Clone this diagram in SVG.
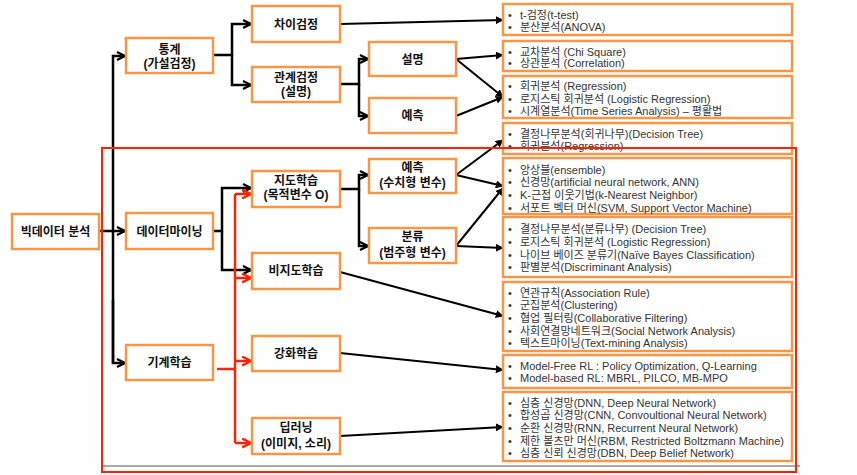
<svg xmlns="http://www.w3.org/2000/svg" width="857" height="475" viewBox="0 0 857 475">
<style>
.n{fill:#fff;stroke:#f79646;stroke-width:2.5}
.b{fill:#fff;stroke:#f79646;stroke-width:2.5}
.t{font-family:"Liberation Sans","Noto Sans CJK KR",sans-serif;font-weight:bold;font-size:12px;fill:#111;text-anchor:middle}
.l{font-family:"Liberation Sans","Noto Sans CJK KR",sans-serif;font-size:11px;fill:#333}
.k{fill:none;stroke:#000;stroke-width:2.5}
.d{fill:none;stroke:#000;stroke-width:2}
.r{fill:none;stroke:#ff2200;stroke-width:2.5}
</style>
<defs>
<marker id="ch" viewBox="0 0 10 10" refX="9" refY="5" markerWidth="10" markerHeight="10" markerUnits="userSpaceOnUse" orient="auto"><path d="M1,1 L9,5 L1,9" fill="none" stroke="#000" stroke-width="2.2"/></marker>
<marker id="chr" viewBox="0 0 10 10" refX="9" refY="5" markerWidth="11" markerHeight="11" markerUnits="userSpaceOnUse" orient="auto"><path d="M1,1 L9,5 L1,9" fill="none" stroke="#ff2200" stroke-width="2.2"/></marker>
<marker id="tr" viewBox="0 0 10 10" refX="9" refY="5" markerWidth="8" markerHeight="8" markerUnits="userSpaceOnUse" orient="auto"><path d="M0,0 L10,5 L0,10 Z" fill="#000"/></marker>
</defs>
<rect width="857" height="475" fill="#fff"/>

<g id="connectors">
<path class="k" d="M113,363 L113,56 L125,56" marker-end="url(#ch)"/>
<path class="k" d="M113,300 L113,363 L125,363" marker-end="url(#ch)"/>
<path class="k" d="M99,231 L125,231" marker-end="url(#ch)"/>
<path class="k" d="M213,55 L232,55 L232,24 L251,24" marker-end="url(#ch)"/>
<path class="k" d="M232,55 L232,85 L251,85" marker-end="url(#ch)"/>
<path class="k" d="M340,84 L359,84 L359,59 L368,59" marker-end="url(#ch)"/>
<path class="k" d="M359,84 L359,116 L368,116" marker-end="url(#ch)"/>
<path class="k" d="M213,231 L222,231 L222,188 L251,188" marker-end="url(#ch)"/>
<path class="k" d="M222,231 L222,270 L251,270" marker-end="url(#ch)"/>
<path class="k" d="M340,189 L359,189 L359,175 L368,175" marker-end="url(#ch)"/>
<path class="k" d="M359,189 L359,246 L368,246" marker-end="url(#ch)"/>
<path class="r" d="M217,369 L235,369"/>
<path class="r" d="M235,194 L235,443"/>
<path class="r" d="M235,194 L251,194" marker-end="url(#chr)"/>
<path class="r" d="M235,278 L251,278" marker-end="url(#chr)"/>
<path class="r" d="M235,361 L251,361" marker-end="url(#chr)"/>
<path class="r" d="M235,443 L251,443" marker-end="url(#chr)"/>
<path class="d" d="M340,24 L503,20" marker-end="url(#tr)"/>
<path class="d" d="M456,59 L503,55" marker-end="url(#tr)"/>
<path class="d" d="M456,59 L503,97" marker-end="url(#tr)"/>
<path class="d" d="M456,116 L503,97" marker-end="url(#tr)"/>
<path class="d" d="M456,175 L503,140" marker-end="url(#tr)"/>
<path class="d" d="M456,175 L503,186" marker-end="url(#tr)"/>
<path class="d" d="M456,246 L503,188" marker-end="url(#tr)"/>
<path class="d" d="M456,246 L503,248" marker-end="url(#tr)"/>
<path class="d" d="M340,272 L503,316" marker-end="url(#tr)"/>
<path class="d" d="M340,353 L503,370" marker-end="url(#tr)"/>
<path class="d" d="M340,436 L503,427" marker-end="url(#tr)"/>
</g>

<g id="n-bigdata"><rect class="n" x="12" y="214" width="87" height="35"/><text class="t" x="55.5" y="236">빅데이터 분석</text></g>
<g id="n-stat"><rect class="n" x="126" y="38" width="87" height="35"/><text class="t" x="169.5" y="54">통계</text><text class="t" x="169.5" y="68">(가설검정)</text></g>
<g id="n-diff"><rect class="n" x="252" y="6" width="88" height="36"/><text class="t" x="296" y="29">차이검정</text></g>
<g id="n-rel"><rect class="n" x="252" y="67" width="88" height="35"/><text class="t" x="296" y="82">관계검정</text><text class="t" x="296" y="96">(설명)</text></g>
<g id="n-explain"><rect class="n" x="369" y="42" width="87" height="34"/><text class="t" x="412.5" y="64">설명</text></g>
<g id="n-predict"><rect class="n" x="369" y="98" width="87" height="35"/><text class="t" x="412.5" y="120">예측</text></g>
<g id="n-dm"><rect class="n" x="126" y="213" width="87" height="36"/><text class="t" x="169.5" y="236">데이터마이닝</text></g>
<g id="n-sup"><rect class="n" x="252" y="171" width="88" height="36"/><text class="t" x="296" y="185">지도학습</text><text class="t" x="296" y="199">(목적변수 O)</text></g>
<g id="n-unsup"><rect class="n" x="252" y="253" width="88" height="36"/><text class="t" x="296" y="275">비지도학습</text></g>
<g id="n-reg"><rect class="n" x="369" y="159" width="87" height="34"/><text class="t" x="412.5" y="172">예측</text><text class="t" x="412.5" y="187">(수치형 변수)</text></g>
<g id="n-cls"><rect class="n" x="369" y="228" width="87" height="35"/><text class="t" x="412.5" y="241">분류</text><text class="t" x="412.5" y="257">(범주형 변수)</text></g>
<g id="n-ml"><rect class="n" x="126" y="345" width="87" height="35"/><text class="t" x="169.5" y="367">기계학습</text></g>
<g id="n-rl"><rect class="n" x="252" y="336" width="88" height="35"/><text class="t" x="296" y="358">강화학습</text></g>
<g id="n-dl"><rect class="n" x="252" y="418" width="88" height="36"/><text class="t" x="296" y="432">딥러닝</text><text class="t" x="296" y="448">(이미지, 소리)</text></g>

<g id="b1"><rect class="b" x="503" y="4" width="289" height="31"/>
<text class="l" x="508" y="19">•</text><text class="l" x="520" y="19">t-검정(t-test)</text>
<text class="l" x="508" y="31">•</text><text class="l" x="520" y="31">분산분석(ANOVA)</text></g>
<g id="b2"><rect class="b" x="503" y="41" width="289" height="30"/>
<text class="l" x="508" y="56">•</text><text class="l" x="520" y="56">교차분석 (Chi Square)</text>
<text class="l" x="508" y="67">•</text><text class="l" x="520" y="67">상관분석 (Correlation)</text></g>
<g id="b3"><rect class="b" x="503" y="76" width="289" height="42"/>
<text class="l" x="508" y="90">•</text><text class="l" x="520" y="90">회귀분석 (Regression)</text>
<text class="l" x="508" y="103">•</text><text class="l" x="520" y="103">로지스틱 회귀분석 (Logistic Regression)</text>
<text class="l" x="508" y="115">•</text><text class="l" x="520" y="115">시계열분석(Time Series Analysis) – 평활법</text></g>
<g id="b4"><rect class="b" x="503" y="123" width="289" height="31"/>
<text class="l" x="508" y="138">•</text><text class="l" x="520" y="138">결정나무분석(회귀나무)(Decision Tree)</text>
<text class="l" x="508" y="150">•</text><text class="l" x="520" y="150">회귀분석(Regression)</text></g>
<g id="b5"><rect class="b" x="503" y="158" width="289" height="56"/>
<text class="l" x="508" y="174">•</text><text class="l" x="520" y="174">앙상블(ensemble)</text>
<text class="l" x="508" y="186">•</text><text class="l" x="520" y="186">신경망(artificial neural network, ANN)</text>
<text class="l" x="508" y="199">•</text><text class="l" x="520" y="199">K-근접 이웃기법(k-Nearest Neighbor)</text>
<text class="l" x="508" y="212">•</text><text class="l" x="520" y="212">서포트 벡터 머신(SVM, Support Vector Machine)</text></g>
<g id="b6"><rect class="b" x="503" y="217" width="289" height="60"/>
<text class="l" x="508" y="233">•</text><text class="l" x="520" y="233">결정나무분석(분류나무) (Decision Tree)</text>
<text class="l" x="508" y="246">•</text><text class="l" x="520" y="246">로지스틱 회귀분석 (Logistic Regression)</text>
<text class="l" x="508" y="259">•</text><text class="l" x="520" y="259">나이브 베이즈 분류기(Naïve Bayes Classification)</text>
<text class="l" x="508" y="271">•</text><text class="l" x="520" y="271">판별분석(Discriminant Analysis)</text></g>
<g id="b7"><rect class="b" x="503" y="282" width="289" height="69"/>
<text class="l" x="508" y="297">•</text><text class="l" x="520" y="297">연관규칙(Association Rule)</text>
<text class="l" x="508" y="309">•</text><text class="l" x="520" y="309">군집분석(Clustering)</text>
<text class="l" x="508" y="322">•</text><text class="l" x="520" y="322">협업 필터링(Collaborative Filtering)</text>
<text class="l" x="508" y="335">•</text><text class="l" x="520" y="335">사회연결망네트워크(Social Network Analysis)</text>
<text class="l" x="508" y="347">•</text><text class="l" x="520" y="347">텍스트마이닝(Text-mining Analysis)</text></g>
<g id="b8"><rect class="b" x="503" y="355" width="289" height="33"/>
<text class="l" x="508" y="370">•</text><text class="l" x="520" y="370">Model-Free RL : Policy Optimization, Q-Learning</text>
<text class="l" x="508" y="382">•</text><text class="l" x="520" y="382">Model-based RL: MBRL, PILCO, MB-MPO</text></g>
<g id="b9"><rect class="b" x="503" y="392" width="289" height="69"/>
<text class="l" x="508" y="407">•</text><text class="l" x="520" y="407">심층 신경망(DNN, Deep Neural Network)</text>
<text class="l" x="508" y="419">•</text><text class="l" x="520" y="419">합성곱 신경망(CNN, Convoultional Neural Network)</text>
<text class="l" x="508" y="432">•</text><text class="l" x="520" y="432">순환 신경망(RNN, Recurrent Neural Network)</text>
<text class="l" x="508" y="445">•</text><text class="l" x="520" y="445">제한 볼츠만 머신(RBM, Restricted Boltzmann Machine)</text>
<text class="l" x="508" y="457">•</text><text class="l" x="520" y="457">심층 신뢰 신경망(DBN, Deep Belief Network)</text></g>

<line x1="103" y1="466" x2="800" y2="466" stroke="#555" stroke-width="1"/>
<rect x="102" y="148" width="694" height="324" fill="none" stroke="#ff2200" stroke-width="2"/>
</svg>
